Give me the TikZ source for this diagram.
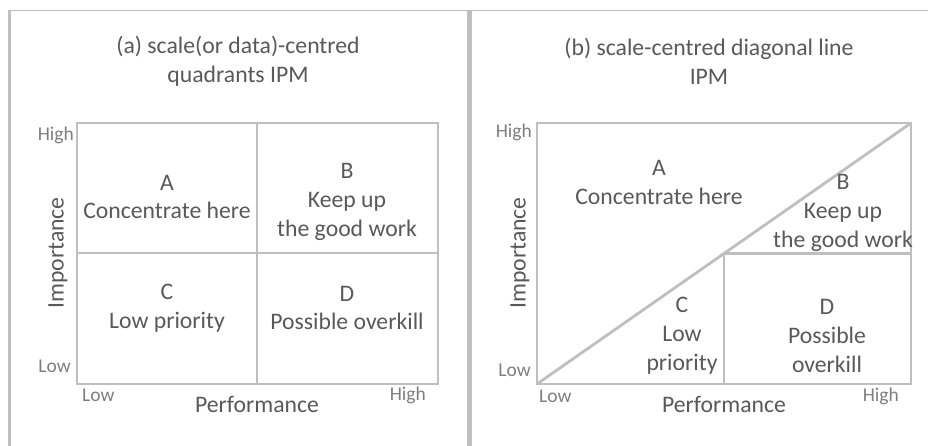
\documentclass[tikz,border=0pt]{standalone}
\usepackage{fontspec}
\setmainfont{Carlito}
\definecolor{gridline}{HTML}{BFBFBF}
\definecolor{labeltext}{HTML}{595959}
\definecolor{scaletext}{HTML}{7F7F7F}
\begin{document}
\begin{tikzpicture}[x=1pt,y=-1pt,
  chartline/.style={draw=gridline,line width=2.8pt},
  frameline/.style={draw=gridline},
  bodytext/.style={inner sep=0pt,align=center,text=labeltext,
    font=\fontsize{23.7}{28.8}\selectfont},
  scalelabel/.style={inner sep=0pt,text=scaletext,
    font=\fontsize{19.5}{22}\selectfont}]
\useasboundingbox (0,0) rectangle (928,446);
\fill[white] (0,0) rectangle (928,446);

% panel frames
\draw[frameline,line width=1.6pt] (8,10.5) -- (928,10.5);
\draw[frameline,line width=3pt] (9.5,10) -- (9.5,446);
\draw[frameline,line width=5pt] (469,10) -- (469,446);

% ---------- panel (a): quadrants ----------
\coordinate (a-sw) at (77,384);
\coordinate (a-ne) at (438,123);
\coordinate (a-mt) at (257,123);
\coordinate (a-mb) at (257,384);
\coordinate (a-ml) at (77,253);
\coordinate (a-mr) at (438,253);
\draw[chartline] (a-sw) rectangle (a-ne);
\draw[chartline] (a-mt) -- (a-mb);
\draw[chartline] (a-ml) -- (a-mr);

\node[bodytext] (a-title) at (238,61) {(a) scale(or data)-centred\\quadrants IPM};
\node[bodytext] (a-A) at (167,197) {A\\Concentrate here};
\node[bodytext] (a-B) at (347,202) {B\\Keep up\\the good work};
\node[bodytext] (a-C) at (167,308) {C\\Low priority};
\node[bodytext] (a-D) at (347,308) {D\\Possible overkill};
\node[bodytext,rotate=90] (a-imp) at (58,253) {Importance};
\node[bodytext] (a-perf) at (257,404) {Performance};
\node[scalelabel,anchor=east] (a-yhigh) at (74,135) {High};
\node[scalelabel,anchor=east] (a-ylow) at (71,366) {Low};
\node[scalelabel,anchor=west] (a-xlow) at (82,395) {Low};
\node[scalelabel,anchor=east] (a-xhigh) at (426,395) {High};

% ---------- panel (b): diagonal line ----------
\coordinate (b-sw) at (537,384);
\coordinate (b-ne) at (911,123);
\coordinate (b-mb) at (724,384);
\coordinate (b-mc) at (724,253.5);
\coordinate (b-mr) at (911,253.5);
\draw[chartline] (b-sw) rectangle (b-ne);
\draw[chartline] (b-sw) -- (b-ne);
\draw[chartline] (b-mb) -- (b-mc) -- (b-mr);

\node[bodytext] (b-title) at (709,61) {(b) scale-centred diagonal line\\IPM};
\node[bodytext] (b-A) at (659,182.5) {A\\Concentrate here};
\node[bodytext] (b-B) at (843,213) {B\\Keep up\\the good work};
\node[bodytext] (b-C) at (682,336) {C\\Low\\priority};
\node[bodytext] (b-D) at (827,336) {D\\Possible\\overkill};
\node[bodytext,rotate=90] (b-imp) at (520,253) {Importance};
\node[bodytext] (b-perf) at (724,404) {Performance};
\node[scalelabel,anchor=east] (b-yhigh) at (532,132) {High};
\node[scalelabel,anchor=east] (b-ylow) at (531,370) {Low};
\node[scalelabel,anchor=west] (b-xlow) at (539,396) {Low};
\node[scalelabel,anchor=east] (b-xhigh) at (899,396) {High};
\end{tikzpicture}
\end{document}
